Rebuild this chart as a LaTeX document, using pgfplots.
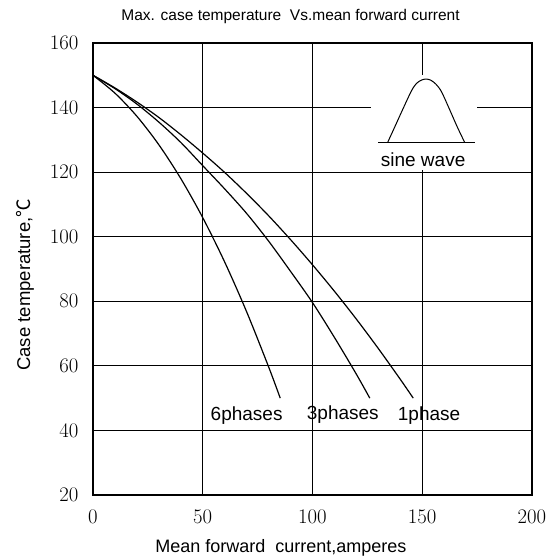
\documentclass[border=0pt]{standalone}
\usepackage{pgfplots}
\pgfplotsset{compat=1.18}
\usepackage{fontspec}
\setmainfont{Liberation Sans}
\newfontfamily\cjk{Noto Sans CJK SC}
\begin{document}
\begin{tikzpicture}
\useasboundingbox (-93pt,-65pt) rectangle (460pt,495pt);
\begin{axis}[
  scale only axis,
  width=439pt, height=452pt,
  xmin=0, xmax=200, ymin=20, ymax=160,
  xtick={0,50,100,150,200},
  ytick={20,40,60,80,100,120,140,160},
  major tick length=0pt,
  grid=major,
  major grid style={black, line width=1.2pt},
  axis line style={black, line width=1.4pt},
  tick label style={font=\fontsize{19.5}{20}\selectfont},
  xticklabel style={yshift=-12pt},
  yticklabel style={xshift=-11pt},
  clip=false,
]
\fill[white] (axis cs:126.5,120.6) rectangle (axis cs:175,150);
% curves
\addplot[black, line width=1.2pt, smooth] coordinates {
(0,150)(10,144.47)(20,137.30)(30,128.48)(40,118.01)(50,105.90)(60,92.15)(70,76.74)(80,59.70)(85.3,50)};
\addplot[black, line width=1.2pt, smooth] coordinates {
(0,150)(10,145.87)(20,141.09)(30,135.5)(40,129.2)(50,122.0)(60,114.8)(70,107.2)(80,98.64)(90,89.27)(100,79.6)(110,68.8)(120,57.4)(126.1,50)};
\addplot[black, line width=1.2pt, smooth] coordinates {
(0,150)(10,146.08)(20,141.72)(30,136.94)(40,131.6)(50,125.9)(60,119.9)(70,113.4)(80,106.5)(90,99.1)(100,91.3)(110,83.1)(120,74.46)(130,65.36)(140,55.83)(145.9,50)};
% sine wave inset
\addplot[black, line width=1pt] coordinates {(129.9,129.1)(174,129.1)};
\addplot[black, line width=1pt, smooth] coordinates {
(134.18,129.12)(137.52,134.07)(141.32,139.75)(145.11,145.22)(147.39,147.49)(149.67,148.52)(151.64,148.83)(153.77,148.52)(156.19,147.28)(158.77,144.91)(162.57,139.23)(165.91,134.07)(169.4,129.12)};
\node[font=\fontsize{19}{20}\selectfont] at (axis cs:150.4,123.7) {sine wave};
\node[font=\fontsize{19}{20}\selectfont] at (axis cs:70,44.5) {6phases};
\node[font=\fontsize{19}{20}\selectfont] at (axis cs:113.8,44.8) {3phases};
\node[font=\fontsize{19}{20}\selectfont] at (axis cs:153.1,44.6) {1phase};
% labels
\node[anchor=base, font=\fontsize{18}{19}\selectfont] at ([yshift=-57pt]rel axis cs:0.428,0) {Mean forward\ \ current,amperes};
\node[anchor=base, font=\fontsize{15.5}{16}\selectfont] at ([yshift=22pt]rel axis cs:0.45,1) {Max. case temperature\ \ Vs.mean forward current};
\node[rotate=90, font=\fontsize{18.5}{19}\selectfont] at ([xshift=-68pt]rel axis cs:0,0.465) {Case temperature,{\cjk ℃}};
\end{axis}
\end{tikzpicture}
\end{document}
